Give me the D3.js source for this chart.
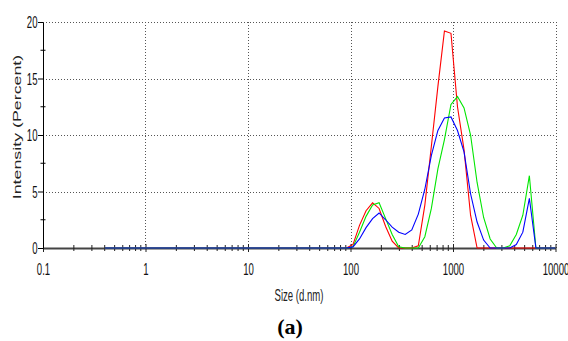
<!DOCTYPE html>
<html>
<head>
<meta charset="utf-8">
<script src="https://cdn.jsdelivr.net/npm/d3@7"></script>
<style>
  body { margin: 0; background: #fff; }
  svg { display: block; }
  .tick text { font-family: "Liberation Sans", Arial, sans-serif; fill: #111; }
</style>
</head>
<body>
<div id="chart"></div>
<script>
// size bins (d.nm) and intensity (%) for the three runs
var sizes = [0.4, 0.4632, 0.5365, 0.6213, 0.7195, 0.8332, 0.9649, 1.117, 1.294, 1.499,
  1.736, 2.01, 2.328, 2.696, 3.122, 3.615, 4.187, 4.849, 5.615, 6.503,
  7.531, 8.721, 10.1, 11.7, 13.54, 15.69, 18.17, 21.04, 24.36, 28.21,
  32.67, 37.84, 43.82, 50.75, 58.77, 68.06, 78.82, 91.28, 105.7, 122.4,
  141.8, 164.2, 190.1, 220.2, 255.0, 295.3, 342.0, 396.1, 458.7, 531.2,
  615.1, 712.4, 825.0, 955.4, 1106, 1281, 1484, 1718, 1990, 2305,
  2669, 3091, 3580, 4145, 4801, 5560, 6439, 7456, 8635, 10000];

var redPct = [0, 0, 0, 0, 0, 0, 0, 0, 0, 0,
  0, 0, 0, 0, 0, 0, 0, 0, 0, 0,
  0, 0, 0, 0, 0, 0, 0, 0, 0, 0,
  0, 0, 0, 0, 0, 0, 0, 0, 0.3, 2.0,
  3.3, 4.0, 3.5, 1.9, 0.6, 0, 0, 0, 0.2, 3.8,
  9.0, 14.3, 19.2, 19.0, 12.5, 8.7, 2.9, 0, 0, 0,
  0, 0, 0, 0, 0, 0, 0, 0, 0, 0];

var greenPct = [0, 0, 0, 0, 0, 0, 0, 0, 0, 0,
  0, 0, 0, 0, 0, 0, 0, 0, 0, 0,
  0, 0, 0, 0, 0, 0, 0, 0, 0, 0,
  0, 0, 0, 0, 0, 0, 0, 0, 0.1, 1.4,
  2.8, 3.8, 4.0, 2.6, 1.2, 0.1, 0, 0, 0, 1.0,
  3.5, 7.0, 9.6, 12.7, 13.4, 12.4, 10.0, 5.8, 2.7, 0.8,
  0, 0, 0.2, 1.2, 2.9, 6.4, 0, 0, 0, 0];

var bluePct = [0, 0, 0, 0, 0, 0, 0, 0, 0, 0,
  0, 0, 0, 0, 0, 0, 0, 0, 0, 0,
  0, 0, 0, 0, 0, 0, 0, 0, 0, 0,
  0, 0, 0, 0, 0, 0, 0, 0, 0.1, 0.8,
  1.8, 2.6, 3.1, 2.5, 1.85, 1.4, 1.2, 1.6, 3.0, 5.2,
  8.2, 10.4, 11.5, 11.6, 10.4, 8.5, 4.8, 2.3, 0.7, 0,
  0, 0, 0, 0.3, 1.4, 4.4, 0, 0, 0, 0];

var xTickVals = [0.1, 1, 10, 100, 1000, 10000];
var xTickLabels = ["0.1", "1", "10", "100", "1000", "10000"];
var yTickVals = [0, 5, 10, 15, 20];
var yMinorVals = [2.5, 7.5, 12.5, 17.5];

var svgWidth = 568;
var svgHeight = 341;

var margin = { top: 22, right: 12.5, bottom: 93, left: 43 };
var width = svgWidth - margin.left - margin.right;
var height = svgHeight - margin.top - margin.bottom;

var svg = d3.select("#chart")
  .append("svg")
  .attr("width", svgWidth)
  .attr("height", svgHeight);

var chartGroup = svg.append("g")
  .attr("transform", `translate(${margin.left}, ${margin.top})`);

var xScale = d3.scaleLog()
  .domain([0.1, 10000])
  .range([0, width]);

var yScale = d3.scaleLinear()
  .domain([0, 20])
  .range([height, 0]);

// dotted grid
chartGroup.append("g")
  .selectAll("line")
  .data(yTickVals.slice(1))
  .enter()
  .append("line")
  .attr("x1", 0)
  .attr("x2", width)
  .attr("y1", d => Math.round(yScale(d)) + 0.5)
  .attr("y2", d => Math.round(yScale(d)) + 0.5)
  .attr("stroke", "#555")
  .attr("stroke-dasharray", "1,2");

chartGroup.append("g")
  .selectAll("line")
  .data(xTickVals.slice(1))
  .enter()
  .append("line")
  .attr("x1", d => Math.round(xScale(d)) + 0.5)
  .attr("x2", d => Math.round(xScale(d)) + 0.5)
  .attr("y1", 0)
  .attr("y2", height)
  .attr("stroke", "#555")
  .attr("stroke-dasharray", "1,2");

// x axis: decades labelled, 2..9 as minor ticks
var bottomAxis = d3.axisBottom(xScale)
  .tickValues(xTickVals)
  .tickFormat((d, i) => xTickLabels[i])
  .tickSizeOuter(0);

var xAxisG = chartGroup.append("g")
  .attr("transform", `translate(0, ${height})`)
  .call(bottomAxis);

xAxisG.select(".domain")
  .attr("stroke", "#444")
  .attr("stroke-width", 2);
xAxisG.selectAll(".tick line")
  .attr("y1", -4)
  .attr("y2", 4)
  .attr("stroke", "#222");
xAxisG.selectAll(".tick text")
  .attr("y", 0)
  .attr("dy", 0)
  .attr("font-size", 16)
  .attr("transform", "translate(0, 26.5) scale(0.6, 1)");

var minorX = xScale.ticks().filter(d => xTickVals.indexOf(d) < 0);
xAxisG.append("g")
  .selectAll("line")
  .data(minorX)
  .enter()
  .append("line")
  .attr("x1", d => xScale(d))
  .attr("x2", d => xScale(d))
  .attr("y1", -3)
  .attr("y2", 3)
  .attr("stroke", "#222");

// y axis
var leftAxis = d3.axisLeft(yScale)
  .tickValues(yTickVals)
  .tickSizeInner(5)
  .tickSizeOuter(0);

var yAxisG = chartGroup.append("g")
  .call(leftAxis);

yAxisG.select(".domain")
  .attr("stroke", "#000");
yAxisG.selectAll(".tick line")
  .attr("stroke", "#000");
yAxisG.selectAll(".tick text")
  .attr("x", 0)
  .attr("dy", "0.35em")
  .attr("font-size", 16)
  .attr("transform", "translate(-5.5, 0) scale(0.6, 1)");

yAxisG.append("g")
  .selectAll("line")
  .data(yMinorVals)
  .enter()
  .append("line")
  .attr("x1", -2.5)
  .attr("x2", 2.5)
  .attr("y1", d => yScale(d))
  .attr("y2", d => yScale(d))
  .attr("stroke", "#000");

// curves
var lineGen = d3.line()
  .x(d => xScale(d[0]))
  .y(d => yScale(d[1]));

var series = [
  { values: redPct, color: "#ff0000" },
  { values: greenPct, color: "#00e600" },
  { values: bluePct, color: "#0000ff" }
];

series.forEach(function(s) {
  chartGroup.append("path")
    .datum(sizes.map((d, i) => [d, s.values[i]]))
    .attr("d", lineGen)
    .attr("fill", "none")
    .attr("stroke", s.color)
    .attr("stroke-width", 1.1);
});

// axis titles
svg.append("text")
  .attr("transform", "translate(21, 127) rotate(-90) scale(1.62, 1)")
  .attr("text-anchor", "middle")
  .attr("font-family", "Liberation Sans, Arial, sans-serif")
  .attr("font-size", 11)
  .attr("fill", "#222")
  .text("Intensity (Percent)");

svg.append("text")
  .attr("transform", "translate(299, 301) scale(0.6, 1)")
  .attr("text-anchor", "middle")
  .attr("font-family", "Liberation Sans, Arial, sans-serif")
  .attr("font-size", 16)
  .attr("fill", "#222")
  .text("Size (d.nm)");

svg.append("text")
  .attr("x", 290)
  .attr("y", 334)
  .attr("text-anchor", "middle")
  .attr("font-family", "Liberation Serif, Times New Roman, serif")
  .attr("font-weight", "bold")
  .attr("font-size", 22)
  .attr("fill", "#000")
  .text("(a)");
</script>
</body>
</html>
